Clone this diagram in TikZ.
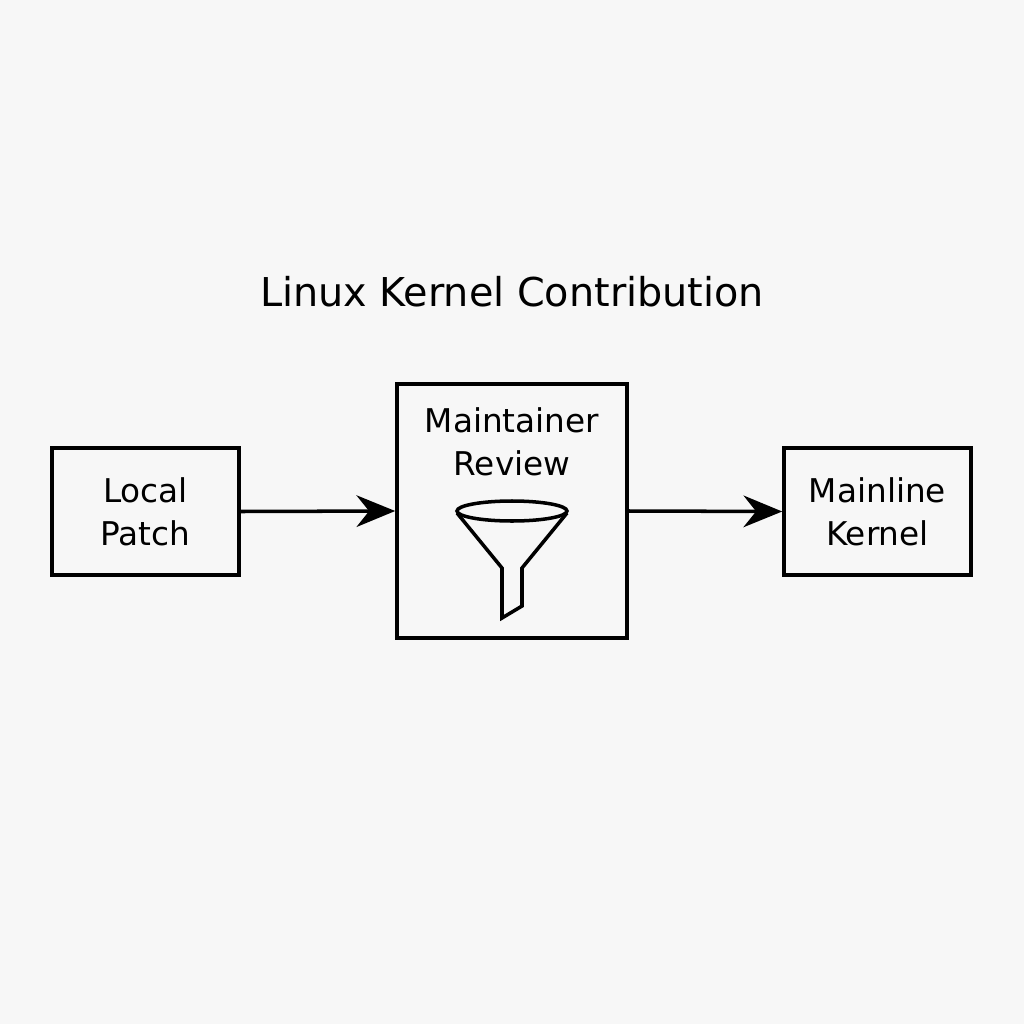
\documentclass[tikz,border=0pt]{standalone}
\usepackage{fontspec}
\setmainfont{DejaVu Sans}
\usetikzlibrary{arrows.meta}
\begin{document}
\begin{tikzpicture}[x=0.01cm,y=-0.01cm,
  box/.style={draw,line width=1pt,inner sep=0,align=center,font=\fontsize{9.3}{12.2}\selectfont},
  arr/.style={line width=1pt,-{Stealth[length=11pt,width=9pt]}}]
\fill[black!3] (0,0) rectangle (1024,1024);
\useasboundingbox (0,0) rectangle (1024,1024);
\node[font=\fontsize{11.3}{14}\selectfont] (title) at (512,292) {Linux Kernel Contribution};
\node[box,minimum width=1.87cm,minimum height=1.27cm] (lp) at (145.5,511.5) {Local\\Patch};
\node[box,minimum width=1.87cm,minimum height=1.27cm] (mk) at (877.5,511.5) {Mainline\\Kernel};
\node[box,minimum width=2.30cm,minimum height=2.54cm] (mr) at (512,511) {};
\node[box,draw=none] (mrt) at (512,442) {Maintainer\\Review};
\draw[arr] (lp.east) -- (mr.west);
\draw[arr] (mr.east) -- (mk.west);
\draw[line width=1pt] (512,511) ellipse [x radius=55, y radius=10];
\draw[line width=1pt,line join=miter] (457,513) -- (502,568) -- (502,618) -- (522,606) -- (522,568) -- (567,513);
\end{tikzpicture}
\end{document}
